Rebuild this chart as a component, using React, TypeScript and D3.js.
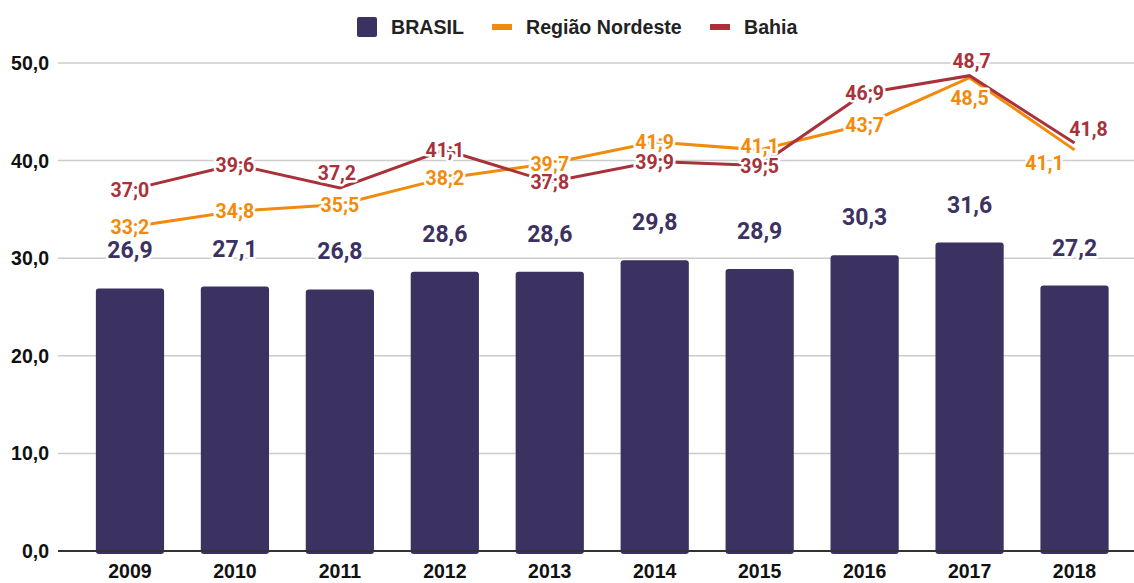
import React from "react";
import * as d3 from "d3";

const years = ["2009", "2010", "2011", "2012", "2013", "2014", "2015", "2016", "2017", "2018"];
const brasil = [26.9, 27.1, 26.8, 28.6, 28.6, 29.8, 28.9, 30.3, 31.6, 27.2];
const nordeste = [33.2, 34.8, 35.5, 38.2, 39.7, 41.9, 41.1, 43.7, 48.5, 41.1];
const bahia = [37.0, 39.6, 37.2, 41.1, 37.8, 39.9, 39.5, 46.9, 48.7, 41.8];
const nordesteLabels = ["33;2", "34;8", "35;5", "38;2", "39;7", "41;9", "41,1", "43;7", "48,5", "41,1"];
const bahiaLabels = ["37;0", "39;6", "37,2", "41;1", "37;8", "39;9", "39;5", "46;9", "48,7", "41,8"];
const brasilLabels = ["26,9", "27,1", "26,8", "28,6", "28,6", "29,8", "28,9", "30,3", "31,6", "27,2"];
const yTicks = [0, 10, 20, 30, 40, 50];

// label nudges (style only)
const nudgeN: Record<string, [number, number]> = { "2015": [0, -4], "2017": [0, 20], "2018": [-30, 13] };
const nudgeB: Record<string, [number, number]> = { "2011": [-3, -15], "2017": [2, -15], "2018": [14, -14] };

const W = 1134, H = 583;
const C_BAR = "#3b3262", C_N = "#f28a0c", C_B = "#a8313a";

export default function App() {
  const x = d3.scaleBand<string>().domain(years).range([77.5, 1127]).paddingInner(0.35).paddingOuter(0.175);
  const y = d3.scaleLinear().domain([0, 50]).range([551, 63]);
  const cx = (yr: string) => (x(yr) as number) + x.bandwidth() / 2;
  const line = d3.line<number>().x((_, i) => cx(years[i])).y((v) => y(v));
  const font = "'Liberation Sans', Arial, sans-serif";
  const rob = "Roboto, 'Noto Sans', sans-serif";
  const halo = { stroke: "#fff", strokeWidth: 5, paintOrder: "stroke" as const, strokeLinejoin: "round" as const };

  return (
    <svg width={W} height={H} style={{ position: "absolute", left: 0, top: 0, background: "#fff" }}>
      {/* legend */}
      <g fontFamily={font} fontWeight="bold" fontSize={19.6} fill="#222">
        <rect x={357} y={17} width={20} height={20} rx={2} fill={C_BAR} />
        <text x={391} y={33.5}>BRASIL</text>
        <rect x={492} y={24} width={20} height={6} fill={C_N} />
        <text x={526} y={33.5}>Região Nordeste</text>
        <rect x={710} y={24} width={20} height={6} fill={C_B} />
        <text x={744} y={33.5}>Bahia</text>
      </g>
      {/* grid + y axis */}
      {yTicks.map((t) => (
        <g key={t}>
          {t !== 0 && <line x1={58} x2={1134} y1={y(t)} y2={y(t)} stroke="#cccccc" strokeWidth={1.5} />}
          <text x={49} y={y(t)} dy="0.36em" textAnchor="end" fontFamily={font} fontWeight="bold" fontSize={19.5} fill="#111">
            {d3.format(".1f")(t).replace(".", ",")}
          </text>
        </g>
      ))}
      {/* bars */}
      {brasil.map((v, i) => (
        <rect key={i} x={x(years[i])} y={y(v)} width={x.bandwidth()} height={y(0) - y(v) + 3} rx={3} fill={C_BAR} />
      ))}
      <line x1={58} x2={1134} y1={y(0)} y2={y(0)} stroke="#333" strokeWidth={2} />
      {/* x axis labels */}
      {years.map((yr) => (
        <text key={yr} x={cx(yr)} y={578} textAnchor="middle" fontFamily={font} fontWeight="bold" fontSize={19.5} fill="#111">
          {yr}
        </text>
      ))}
      {/* lines */}
      <path d={line(nordeste) || ""} fill="none" stroke={C_N} strokeWidth={3} strokeLinejoin="miter" />
      <path d={line(bahia) || ""} fill="none" stroke={C_B} strokeWidth={3} strokeLinejoin="miter" />
      {/* bar labels */}
      {brasil.map((v, i) => (
        <text key={i} x={cx(years[i])} y={y(v) - 30} textAnchor="middle" fontFamily={rob} fontWeight="bold" fontSize={23} fill={C_BAR} {...halo}>
          {brasilLabels[i]}
        </text>
      ))}
      {/* line labels */}
      {nordeste.map((v, i) => {
        const n = nudgeN[years[i]] || [0, 0];
        return (
          <text key={"n" + i} x={cx(years[i]) + n[0]} y={y(v) + n[1]} dy="0.36em" textAnchor="middle" fontFamily={rob} fontWeight="bold" fontSize={19.5} fill={C_N} {...halo}>
            {nordesteLabels[i]}
          </text>
        );
      })}
      {bahia.map((v, i) => {
        const n = nudgeB[years[i]] || [0, 0];
        return (
          <text key={"b" + i} x={cx(years[i]) + n[0]} y={y(v) + n[1]} dy="0.36em" textAnchor="middle" fontFamily={rob} fontWeight="bold" fontSize={19.5} fill={C_B} {...halo}>
            {bahiaLabels[i]}
          </text>
        );
      })}
    </svg>
  );
}
